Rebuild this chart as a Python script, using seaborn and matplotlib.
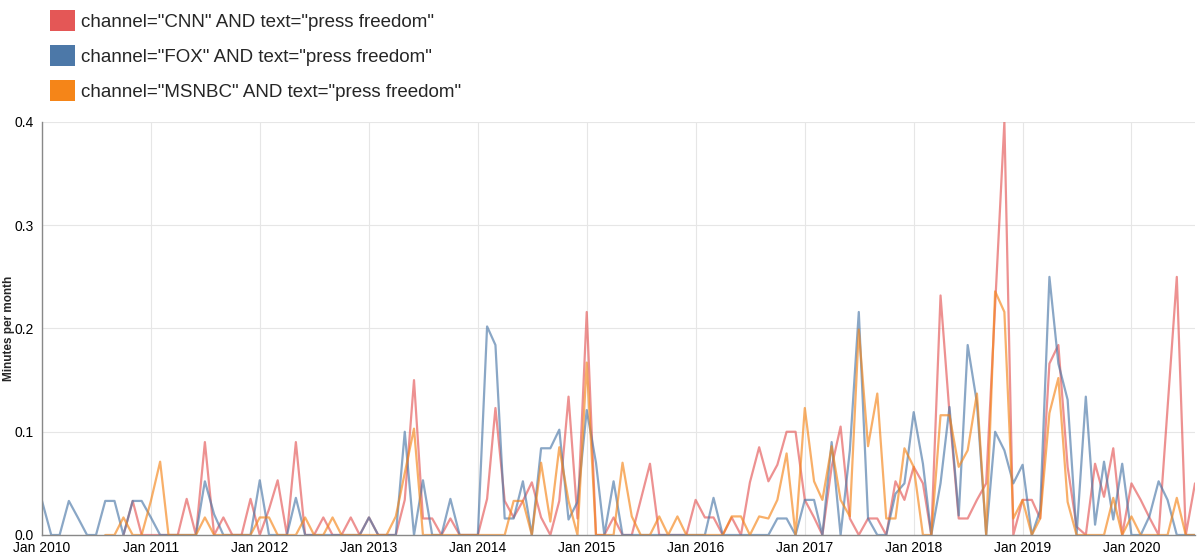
import matplotlib
matplotlib.use("Agg")
import matplotlib.pyplot as plt
import matplotlib.dates as mdates
from matplotlib.patches import Patch
import numpy as np
import pandas as pd
import seaborn as sns

# monthly values, Jan 2010 .. Aug 2020 (None = no data for that month)
months = pd.date_range("2010-01-01", "2020-08-01", freq="MS")

cnn = [
    None, None, None, None, None, None, None, None, None, 0, 0.033, 0,           # 2010
    0, 0, 0, 0, 0.035, 0, 0.090, 0, 0.017, 0, 0, 0.035,                          # 2011
    0, 0.025, 0.053, 0, 0.090, 0, 0, 0.017, 0, 0, 0.017, 0,                      # 2012
    0.017, 0, 0, 0, 0.034, 0.150, 0.016, 0.016, 0, 0.016, 0, 0,                  # 2013
    0, 0.035, 0.123, 0.033, 0.017, 0.033, 0.051, 0.017, 0, 0.033, 0.134, 0.016,  # 2014
    0.216, 0, 0, 0.017, 0, 0, 0.034, 0.069, 0, 0, 0, 0,                          # 2015
    0.034, 0.017, 0.017, 0, 0.017, 0, 0.051, 0.085, 0.052, 0.068, 0.100, 0.100,  # 2016
    0.034, 0.017, 0, 0.066, 0.105, 0.016, 0, 0.016, 0.016, 0, 0.052, 0.034,      # 2017
    0.066, 0.050, 0, 0.232, 0.118, 0.016, 0.016, 0.034, 0.050, None, 0.400, 0,   # 2018
    0.034, 0.034, 0.016, 0.166, 0.184, 0.066, 0.008, 0, 0.069, 0.037, 0.084, 0,  # 2019
    0.050, 0.034, 0.017, 0, None, 0.250, 0, 0.050,                               # 2020
]

fox = [
    0.033, 0, 0, 0.033, 0.017, 0, 0, 0.033, 0.033, 0, 0.033, 0.033,
    0.017, 0, 0, 0, 0, 0, 0.052, 0.020, 0, 0, 0, 0,
    0.053, 0, 0, 0, 0.036, 0, 0, 0, 0, 0, 0, 0,
    0.017, 0, 0, 0, 0.100, 0, 0.053, 0, 0, 0.035, 0, 0,
    0, 0.202, 0.184, 0.016, 0.016, 0.052, 0, 0.084, 0.084, 0.102, 0.015, 0.032,
    0.121, 0.070, 0, 0.052, 0, 0, 0, 0, 0, 0, 0, 0,
    0, 0, 0.036, 0, 0, 0, 0, 0, 0, 0.016, 0.016, 0,
    0.034, 0.034, 0, 0.090, 0, 0.082, 0.216, 0.016, 0, 0, 0.040, 0.050,
    0.119, 0.069, 0, 0.050, 0.124, 0.019, 0.184, 0.128, 0, 0.100, 0.082, 0.050,
    0.068, 0, 0.024, 0.250, 0.166, 0.131, 0, 0.134, 0.010, 0.071, 0.015, 0.069,
    0, 0, 0.018, 0.052, 0.034, 0, 0, 0,
]

msnbc = [
    None, None, None, None, None, None, None, 0, 0, 0.017, 0, 0,
    0.033, 0.071, 0, 0, 0, 0, 0.017, 0, 0, 0, 0, 0,
    0.017, 0.017, 0, 0, 0, 0.017, 0, 0, 0.017, 0, 0, 0,
    0, 0, 0, 0.018, 0.060, 0.103, 0, 0, 0, 0, 0, 0,
    0, 0, 0, 0, 0.033, 0.033, 0, 0.070, 0.013, 0.085, 0.033, 0,
    0.167, 0, 0, 0, 0.070, 0.018, 0, 0, 0.018, 0, 0.018, 0,
    0, 0, 0, 0, 0.018, 0.018, 0, 0.018, 0.016, 0.034, 0.079, 0,
    0.123, 0.052, 0.034, 0.086, 0.034, 0.018, 0.199, 0.086, 0.137, 0.016, 0.016, 0.084,
    0.066, 0, 0, 0.116, 0.116, 0.066, 0.082, 0.137, 0, 0.236, 0.216, 0.016,
    0.034, 0, 0.016, 0.118, 0.152, 0.032, 0, 0, 0, 0, 0.036, 0,
    0.018, 0, 0, 0, 0, 0.036, 0, 0,
]

labels = [
    'channel="CNN" AND text="press freedom"',
    'channel="FOX" AND text="press freedom"',
    'channel="MSNBC" AND text="press freedom"',
]
colors = ["#e45756", "#4c78a8", "#f58518"]

df = pd.DataFrame({"month": months, labels[0]: cnn, labels[1]: fox, labels[2]: msnbc})
df = df.melt(id_vars="month", var_name="series", value_name="minutes").dropna()

sns.set_theme(style="white")
plt.rcParams["font.family"] = ["Liberation Sans", "DejaVu Sans"]

fig = plt.figure(figsize=(12, 5.54), dpi=100)
ax = fig.add_axes([42 / 1200, 1 - 535 / 554, 1153 / 1200, 413 / 554])

sns.lineplot(data=df, x="month", y="minutes", hue="series", hue_order=labels,
             palette=colors, alpha=0.65, linewidth=1.6, legend=False, ax=ax)

ax.set_xlim(months[0], months[-1])
ax.set_ylim(0, 0.4)
ax.set_yticks([0, 0.1, 0.2, 0.3, 0.4])
ax.set_yticklabels(["0.0", "0.1", "0.2", "0.3", "0.4"])
ax.xaxis.set_major_locator(mdates.YearLocator())
ax.xaxis.set_major_formatter(mdates.DateFormatter("%b %Y"))

ax.grid(True, color="#e6e6e6", linewidth=0.8)
ax.set_axisbelow(True)
for side in ["top", "right"]:
    ax.spines[side].set_visible(False)
for side in ["left", "bottom"]:
    ax.spines[side].set_color("#888888")
    ax.spines[side].set_linewidth(1.0)
ax.tick_params(axis="both", colors="#888888", length=4, width=1, labelsize=10,
               labelcolor="black", pad=2)
ax.tick_params(axis="x", pad=0.5)

ax.set_xlabel("")
ax.set_ylabel("Minutes per month", fontsize=8.5, fontweight="bold")
ax.yaxis.set_label_coords(-0.0235, 0.5)

handles = [Patch(facecolor=c, edgecolor="none") for c in colors]
fig.legend(handles, labels, loc="upper left", bbox_to_anchor=(50 / 1200, 1 - 10 / 554),
           frameon=False, fontsize=13.5, borderpad=0, borderaxespad=0,
           handlelength=1.33, handleheight=1.33, handletextpad=0.3, labelspacing=0.77)

fig.savefig("out.png", dpi=100)
